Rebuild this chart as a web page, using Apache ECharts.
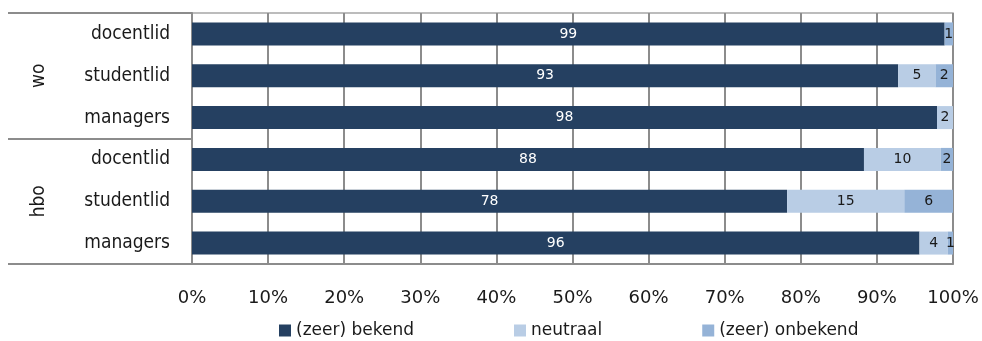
<!DOCTYPE html>
<html>
<head>
<meta charset="utf-8">
<script src="https://cdn.jsdelivr.net/npm/echarts@6/dist/echarts.min.js"></script>
<style>
  html, body { margin: 0; padding: 0; background: #fff; }
  #chart { width: 982px; height: 341px; }
</style>
</head>
<body>
<div id="chart"></div>
<script>
// rows top to bottom
const groups = ['wo', 'hbo'];
const categories = ['docentlid', 'studentlid', 'managers', 'docentlid', 'studentlid', 'managers'];
const seriesNames = ['(zeer) bekend', 'neutraal', '(zeer) onbekend'];
const bekend = [98.9, 92.8, 97.9, 88.3, 78.2, 95.6];
const neutraal = [0, 4.9, 2.1, 10.1, 15.4, 3.7];
const onbekend = [1.1, 2.3, 0, 1.6, 6.4, 0.7];
const xTicks = [0, 10, 20, 30, 40, 50, 60, 70, 80, 90, 100];

const condensed = "'DejaVu Sans Condensed', 'DejaVu Sans', sans-serif";
const font = "'DejaVu Sans', sans-serif";
const colors = ['#254061', '#b9cde5', '#95b3d7'];
const gridGrey = '#8c8c8c';

const chart = echarts.init(document.getElementById('chart'));

function barSeries(name, values, idx) {
    return {
        name: name,
        type: 'bar',
        stack: 'total',
        yAxisIndex: 0,
        barCategoryGap: '45%',
        data: values,
        itemStyle: { color: colors[idx] },
        label: {
            show: true,
            position: 'inside',
            fontFamily: font,
            fontSize: 14,
            color: idx === 0 ? '#ffffff' : '#1a1a1a',
            formatter: p => (p.value > 0 ? Math.round(p.value) : '')
        }
    };
}

const option = {
    animation: false,
    backgroundColor: '#ffffff',
    textStyle: { fontFamily: font },
    grid: {
        left: 192,
        right: 29,
        top: 13,
        bottom: 77,
        show: true,
        borderColor: '#a6a6a6',
        borderWidth: 1.5
    },
    legend: {
        data: seriesNames,
        left: 279,
        top: 322,
        padding: 0,
        icon: 'rect',
        itemWidth: 12,
        itemHeight: 12,
        itemGap: 100,
        textStyle: { fontFamily: font, fontSize: 17, color: '#1a1a1a' }
    },
    xAxis: {
        type: 'value',
        min: xTicks[0],
        max: xTicks[xTicks.length - 1],
        interval: 10,
        axisLine: { show: true, lineStyle: { color: gridGrey, width: 2 } },
        axisTick: { show: false },
        axisLabel: {
            margin: 25,
            fontFamily: font,
            fontSize: 18,
            color: '#1a1a1a',
            formatter: '{value}%'
        },
        splitLine: { show: true, lineStyle: { color: gridGrey, width: 2 } }
    },
    yAxis: [
        {
            type: 'category',
            data: categories,
            inverse: true,
            axisLine: { show: true, lineStyle: { color: gridGrey, width: 2 } },
            axisTick: { show: false },
            axisLabel: {
                interval: 0,
                margin: 22,
                fontFamily: condensed,
                fontSize: 19,
                color: '#1a1a1a'
            }
        },
        {
            type: 'category',
            data: groups,
            inverse: true,
            position: 'left',
            axisLine: { show: false },
            axisTick: {
                show: true,
                length: 184,
                lineStyle: { color: gridGrey, width: 2 }
            },
            axisLabel: {
                interval: 0,
                rotate: 90,
                margin: 143,
                fontFamily: condensed,
                fontSize: 19,
                color: '#1a1a1a'
            },
            splitLine: { show: false }
        }
    ],
    series: [
        barSeries(seriesNames[0], bekend, 0),
        barSeries(seriesNames[1], neutraal, 1),
        barSeries(seriesNames[2], onbekend, 2)
    ]
};

chart.setOption(option);
</script>
</body>
</html>
